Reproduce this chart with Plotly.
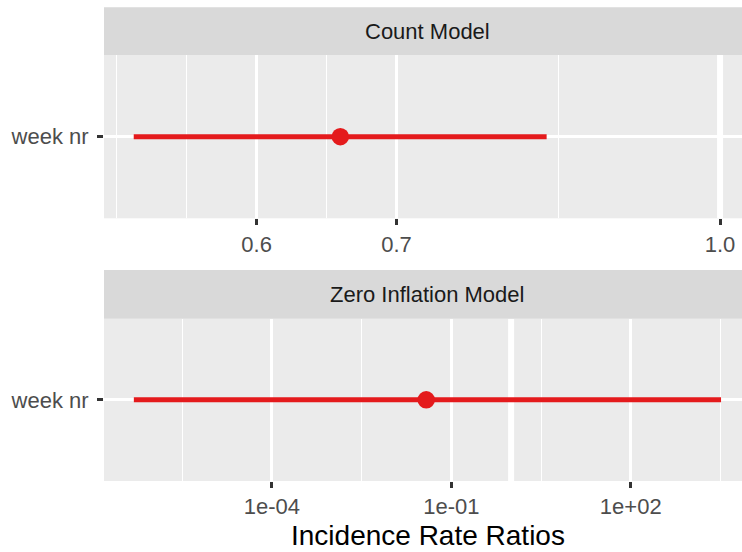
import plotly.graph_objects as go

W, H = 742, 552

# Model term and incidence rate ratios with 95% confidence intervals
term = ["week nr"]
count_irr = [0.658]
count_lo = [0.524]
count_hi = [0.826]
zero_irr = [0.038]
zero_lo = [4.9e-7]
zero_hi = [3240.0]

facet_titles = ["Count Model", "Zero Inflation Model"]

# Axis breaks (log10 scales)
count_ticks = [0.6, 0.7, 1.0]
count_ticktext = ["0.6", "0.7", "1.0"]
count_minor = [0.514, 0.5556, 0.648, 0.8367]
zero_ticks = [1e-4, 1e-1, 1e2]
zero_ticktext = ["1e-04", "1e-01", "1e+02"]
zero_minor = [3.16e-6, 3.16e-3, 3.16, 3162.0]
ref_value = 1.0

RED = "#E41A1C"
FONT = "Liberation Sans, Arial, Helvetica, sans-serif"


def fx(p):
    return p / W


def fy(p):
    return 1 - p / H


def err(est, lo, hi):
    return dict(type="data", symmetric=False,
                array=[h - e for e, h in zip(est, hi)],
                arrayminus=[e - l for e, l in zip(est, lo)],
                color=RED, thickness=5, width=0)


fig = go.Figure()
fig.add_trace(go.Scatter(x=count_irr, y=term, mode="markers",
                         marker=dict(color=RED, size=17.5),
                         error_x=err(count_irr, count_lo, count_hi),
                         xaxis="x", yaxis="y", showlegend=False))
fig.add_trace(go.Scatter(x=zero_irr, y=term, mode="markers",
                         marker=dict(color=RED, size=17.5),
                         error_x=err(zero_irr, zero_lo, zero_hi),
                         xaxis="x2", yaxis="y2", showlegend=False))

panel_left = fx(104)
top_panel = (fy(218.3), fy(55))
bot_panel = (fy(481), fy(318.7))

common_x = dict(type="log", showgrid=True, gridcolor="white", gridwidth=2.6,
                zeroline=False, showline=False, ticks="outside", ticklen=6,
                tickwidth=2.5, tickcolor="#333333",
                tickfont=dict(family=FONT, size=22, color="#4D4D4D"),
                tickmode="array")
common_y = dict(type="category", showgrid=True, gridcolor="white", gridwidth=2.6,
                zeroline=False, showline=False, ticks="outside", ticklen=6,
                tickwidth=2.5, tickcolor="#333333", range=[-0.6, 0.6],
                tickfont=dict(family=FONT, size=22, color="#4D4D4D"),
                ticklabelstandoff=4)

fig.update_layout(
    width=W, height=H,
    margin=dict(l=0, r=0, t=0, b=0),
    paper_bgcolor="white", plot_bgcolor="#EBEBEB",
    xaxis=dict(common_x, domain=[panel_left, 1], anchor="y",
               range=[-0.2949, 0.0105],
               tickvals=count_ticks, ticktext=count_ticktext,
               minor=dict(tickmode="array", tickvals=count_minor, showgrid=True,
                          gridcolor="white", gridwidth=1.3, ticklen=0)),
    yaxis=dict(common_y, domain=list(top_panel), anchor="x"),
    xaxis2=dict(common_x, domain=[panel_left, 1], anchor="y2",
                range=[-6.809, 3.861],
                tickvals=zero_ticks, ticktext=zero_ticktext,
                minor=dict(tickmode="array", tickvals=zero_minor, showgrid=True,
                           gridcolor="white", gridwidth=1.3, ticklen=0)),
    yaxis2=dict(common_y, domain=list(bot_panel), anchor="x2"),
)

# Reference line at IRR = 1 in both panels
for xr, yr in (("x", "y domain"), ("x2", "y2 domain")):
    fig.add_shape(type="line", xref=xr, yref=yr, x0=ref_value, x1=ref_value,
                  y0=0, y1=1, line=dict(color="white", width=6), layer="below")

# Facet strips
strips = [(7.3, 55, 31.5), (270, 318.7, 294.5)]
for (top, bottom, mid), title in zip(strips, facet_titles):
    fig.add_shape(type="rect", xref="paper", yref="paper",
                  x0=panel_left, x1=1, y0=fy(bottom), y1=fy(top),
                  fillcolor="#D9D9D9", line=dict(width=0), layer="below")
    fig.add_annotation(text=title, xref="paper", yref="paper",
                       x=fx(427), y=fy(mid), showarrow=False,
                       xanchor="center", yanchor="middle",
                       font=dict(family=FONT, size=22, color="#1A1A1A"))

# Axis title
fig.add_annotation(text="Incidence Rate Ratios", xref="paper", yref="paper",
                   x=fx(428), y=fy(535), showarrow=False,
                   xanchor="center", yanchor="middle",
                   font=dict(family=FONT, size=28, color="black"))

fig.write_html("out.html")
